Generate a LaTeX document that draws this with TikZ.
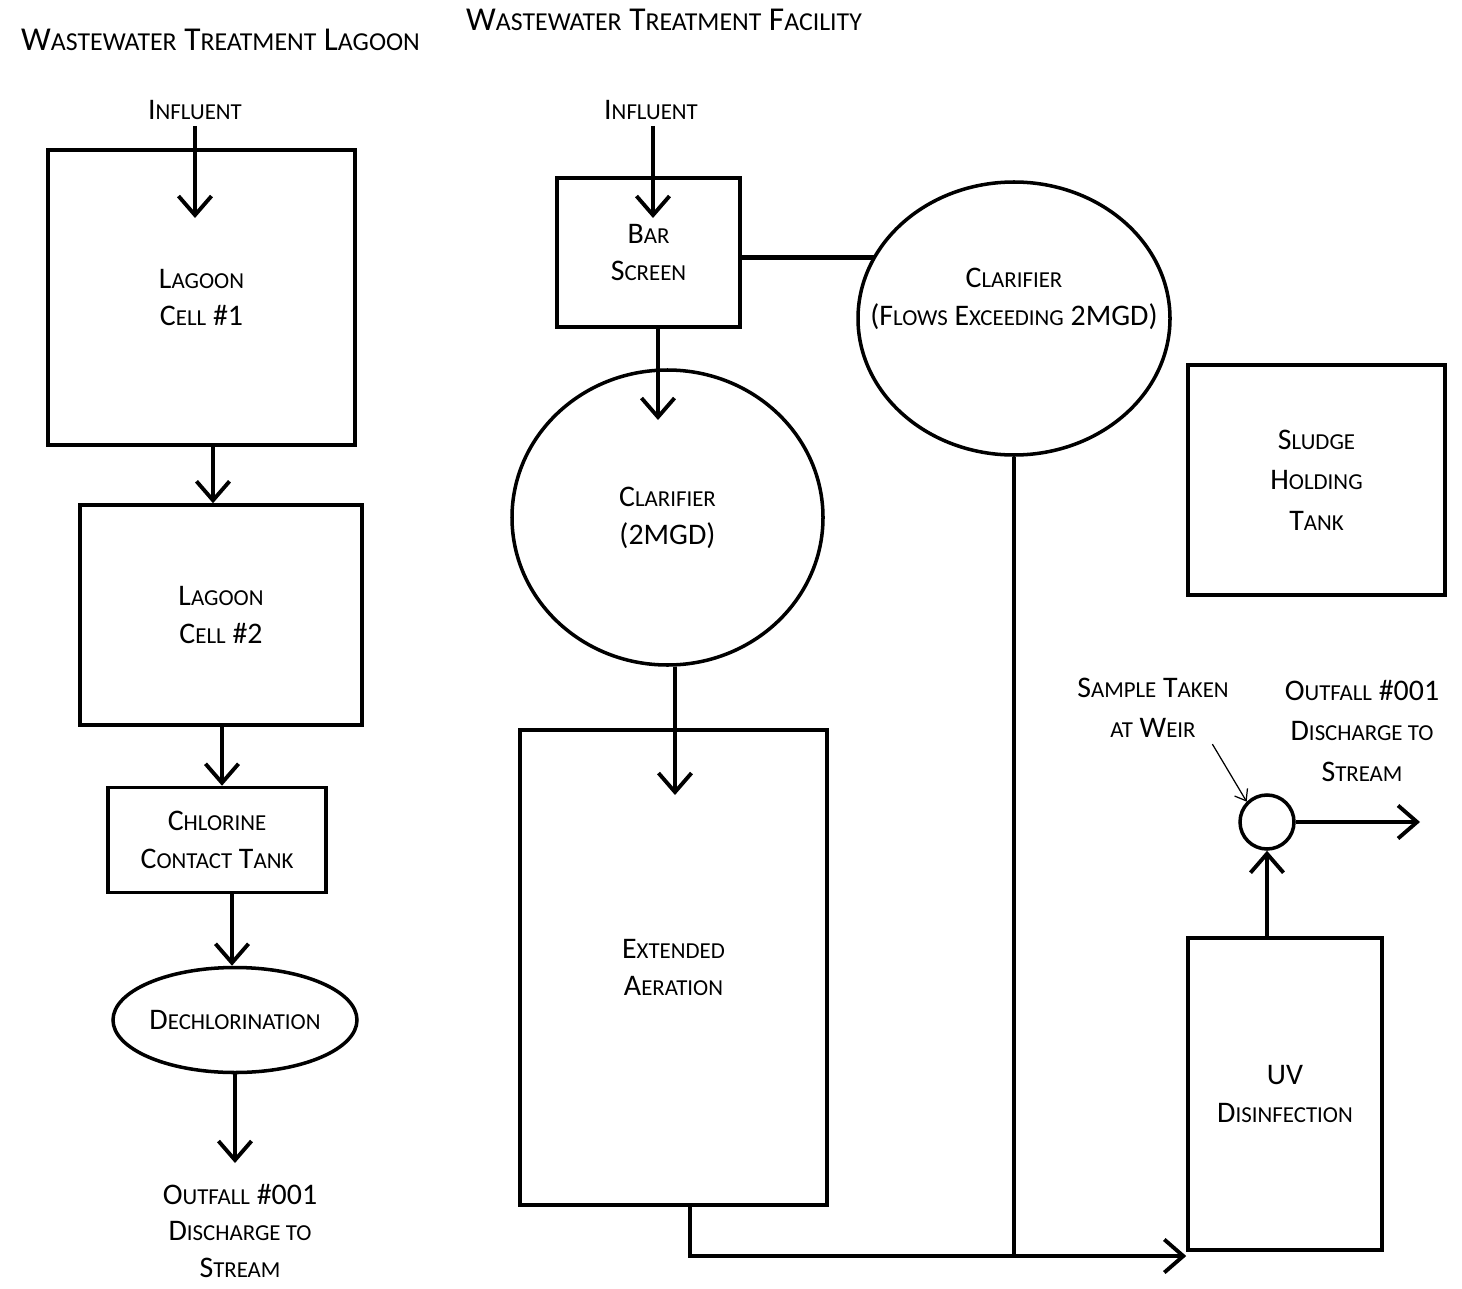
\documentclass[tikz,border=0pt]{standalone}
\usepackage{fontspec}
\setmainfont{Carlito}
\usepackage{tikz}
\usetikzlibrary{arrows.meta,shapes.geometric,backgrounds}
\newcommand{\sm}[1]{{\fontsize{13}{15}\selectfont #1}}
\newcommand{\tsm}[1]{{\fontsize{14.7}{18}\selectfont #1}}
\tikzset{Box/.style={draw,line width=2pt,fill=white,align=center,font=\fontsize{17}{21.6}\selectfont},
  Tank/.style={Box,ellipse,inner sep=0pt},
  Lbl/.style={align=center,font=\fontsize{17}{21.6}\selectfont},
  Head/.style={anchor=west,font=\fontsize{19}{24}\selectfont},
  Flow/.style={line width=2.4pt,-{Straight Barb[length=3.8mm,width=6.6mm,line width=2.2pt]}},
  Pipe/.style={line width=2.4pt}}

\begin{document}
\begin{tikzpicture}
    \useasboundingbox (0,0) rectangle (29.24,-25.78);
    \node[Head] (T1) at (0.3,-0.8) {W\tsm{ASTEWATER} T\tsm{REATMENT} L\tsm{AGOON}};
    \node[Head] (T2) at (9.2,-0.4) {W\tsm{ASTEWATER} T\tsm{REATMENT} F\tsm{ACILITY}};
    % lagoon side
    \node[Lbl] (In1) at (3.9,-2.2) {I\sm{NFLUENT}};
    \node[Box,minimum width=6.14cm,minimum height=5.9cm] (Cell1) at (4.03,-5.95) {L\sm{AGOON}\\C\sm{ELL} \#1};
    \node[Box,minimum width=5.64cm,minimum height=4.4cm] (Cell2) at (4.42,-12.3) {L\sm{AGOON}\\C\sm{ELL} \#2};
    \node[Box,minimum width=4.36cm,minimum height=2.1cm] (Chl) at (4.34,-16.8) {C\sm{HLORINE}\\C\sm{ONTACT} T\sm{ANK}};
    \node[Tank,minimum width=4.88cm,minimum height=2.1cm] (Dechl) at (4.7,-20.4) {D\sm{ECHLORINATION}};
    \node[Lbl,font=\fontsize{17}{21}\selectfont] (Out1) at (4.8,-24.62) {O\sm{UTFALL} \#001\\D\sm{ISCHARGE TO}\\S\sm{TREAM}};
    \coordinate (c1in) at (3.9,-4.36);
    % facility side
    \node[Lbl] (In2) at (13.02,-2.2) {I\sm{NFLUENT}};
    \node[Box,minimum width=3.66cm,minimum height=2.98cm] (Bar) at (12.97,-5.05) {B\sm{AR}\\S\sm{CREEN}};
    \node[Tank,minimum width=6.24cm,minimum height=5.46cm,
      label={[Lbl,yshift=0.4cm]center:C\sm{LARIFIER}\\(F\sm{LOWS} E\sm{XCEEDING} 2MGD)}] (ClarB) at (20.28,-6.37) {};
    \node[Tank,minimum width=6.22cm,minimum height=5.9cm] (ClarA) at (13.35,-10.35) {C\sm{LARIFIER}\\(2MGD)};
    \node[Box,minimum width=6.14cm,minimum height=9.5cm] (Aer) at (13.47,-19.35) {E\sm{XTENDED}\\A\sm{ERATION}};
    \node[Box,minimum width=5.14cm,minimum height=4.6cm,font=\fontsize{17}{23}\selectfont] (Sludge) at (26.33,-9.6) {S\sm{LUDGE}\\H\sm{OLDING}\\T\sm{ANK}};
    \node[Box,minimum width=3.88cm,minimum height=6.24cm] (UV) at (25.7,-21.88) {UV\\D\sm{ISINFECTION}};
    \node[Box,circle,minimum size=1.08cm,inner sep=0pt] (Weir) at (25.34,-16.44) {};
    \node[Lbl,font=\fontsize{17}{23}\selectfont] (Samp) at (23.06,-14.16) {S\sm{AMPLE} T\sm{AKEN}\\\sm{AT} W\sm{EIR}};
    \node[Lbl,font=\fontsize{17}{23}\selectfont] (Out2) at (27.24,-14.62) {O\sm{UTFALL} \#001\\D\sm{ISCHARGE TO}\\S\sm{TREAM}};
    \coordinate (bin) at (13.06,-4.36);
    \coordinate (ain) at (13.16,-8.4);
    \coordinate (ein) at (13.5,-15.9);
    \coordinate (btm) at (13.8,-25.12);
    \coordinate (dis) at (28.4,-16.44);
    \begin{scope}[Flow]
      \draw (In1.south -| c1in) -- (c1in);
      \draw (Cell1.south -| 4.26,0) -- (Cell2.north -| 4.26,0);
      \draw (Cell2.south -| 4.44,0) -- (Chl.north -| 4.44,0);
      \draw (Chl.south -| 4.64,0) -- (Dechl.north -| 4.64,0);
      \draw (Dechl.south) -- (Dechl.south |- 0,-23.26);
      \draw (In2.south -| bin) -- (bin);
      \draw (Bar.south -| ain) -- (ain);
      \draw (ClarA.south -| ein) -- (ein);
      \draw (Aer.south -| btm) -- (btm) -- (btm -| UV.west);
      \draw (UV.north -| Weir) -- (Weir.south);
      \draw (Weir.east) -- (dis);
    \end{scope}
    \begin{scope}[on background layer]
      \draw[Pipe] ([yshift=-0.1cm]Bar.east) -- ([yshift=-0.1cm]Bar.east -| ClarB.center);
      \draw[Pipe] (ClarB.south) -- (ClarB.south |- btm);
    \end{scope}
    \draw[line width=0.7pt,-{Straight Barb[length=2mm,width=3mm]}] ([xshift=-0.45cm]Samp.south east) -- (Weir.135);
\end{tikzpicture}
\end{document}
